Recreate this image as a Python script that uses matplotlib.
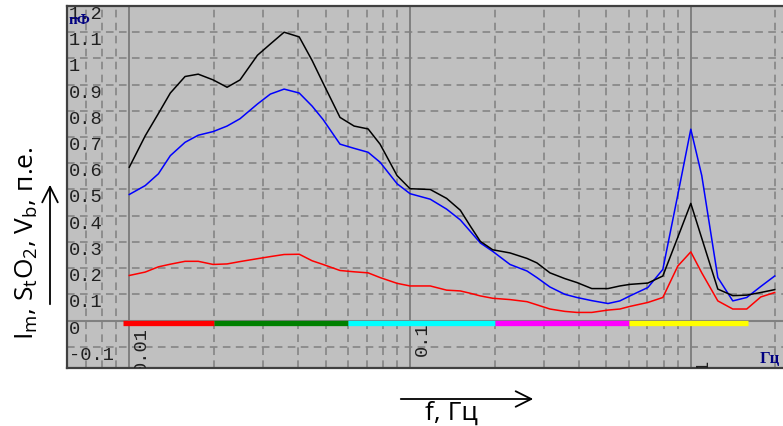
import matplotlib
matplotlib.use("Agg")
import matplotlib.pyplot as plt
from matplotlib.transforms import offset_copy, blended_transform_factory

plt.rcParams['font.family'] = ['Open Sans', 'DejaVu Sans']
plt.rcParams['mathtext.fontset'] = 'custom'
plt.rcParams['mathtext.rm'] = 'Open Sans'

# frequency grid, Hz
freq = [0.0100, 0.0114, 0.0127, 0.0140, 0.0158, 0.0176, 0.0199, 0.0223, 0.0248,
        0.0286, 0.0318, 0.0356, 0.0403, 0.0448, 0.0490, 0.0563, 0.0632, 0.0709,
        0.0782, 0.0899, 0.100, 0.118, 0.135, 0.151, 0.164, 0.178, 0.197, 0.227,
        0.261, 0.283, 0.315, 0.356, 0.393, 0.444, 0.507, 0.559, 0.607, 0.703,
        0.795, 0.899, 1.00, 1.094, 1.248, 1.411, 1.582, 1.775, 1.990]

black = [0.585, 0.705, 0.79, 0.868, 0.931, 0.94, 0.918, 0.89, 0.918, 1.012,
         1.055, 1.10, 1.082, 0.992, 0.906, 0.775, 0.742, 0.731, 0.673, 0.553,
         0.503, 0.50, 0.466, 0.421, 0.36, 0.302, 0.27, 0.258, 0.237, 0.22,
         0.182, 0.16, 0.145, 0.122, 0.122, 0.132, 0.138, 0.143, 0.17, 0.318,
         0.447, 0.314, 0.12, 0.095, 0.097, 0.107, 0.118]

blue = [0.481, 0.515, 0.56, 0.629, 0.68, 0.707, 0.721, 0.742, 0.77, 0.826,
        0.864, 0.883, 0.868, 0.818, 0.767, 0.673, 0.657, 0.642, 0.604, 0.522,
        0.484, 0.463, 0.425, 0.384, 0.34, 0.296, 0.264, 0.214, 0.189, 0.164,
        0.128, 0.10, 0.088, 0.076, 0.065, 0.075, 0.094, 0.126, 0.195, 0.48,
        0.73, 0.553, 0.164, 0.075, 0.088, 0.13, 0.17]

red = [0.172, 0.185, 0.205, 0.215, 0.226, 0.226, 0.214, 0.216, 0.225, 0.236,
       0.244, 0.252, 0.253, 0.228, 0.214, 0.191, 0.186, 0.182, 0.164, 0.142,
       0.132, 0.132, 0.116, 0.113, 0.104, 0.094, 0.085, 0.08, 0.072, 0.06,
       0.044, 0.035, 0.031, 0.031, 0.04, 0.044, 0.054, 0.069, 0.088, 0.208,
       0.262, 0.182, 0.075, 0.044, 0.044, 0.09, 0.107]

# frequency bands along the zero line
band_edges = [0.0095, 0.02, 0.06, 0.2, 0.6, 1.6]
band_colors = ['#ff0000', '#008000', '#00ffff', '#ff00ff', '#ffff00']

yticks = [-0.1, 0, 0.1, 0.2, 0.3, 0.4, 0.5, 0.6, 0.7, 0.8, 0.9, 1.0, 1.1, 1.2]
ytick_labels = ['-0.1', '0', '0.1', '0.2', '0.3', '0.4', '0.5', '0.6', '0.7',
                '0.8', '0.9', '1', '1.1', '1.2']
xmajor = [0.01, 0.1, 1]
xmajor_labels = ['0.01', '0.1', '1']
xminor = [0.006, 0.007, 0.008, 0.009, 0.02, 0.03, 0.04, 0.05, 0.06, 0.07, 0.08,
          0.09, 0.2, 0.3, 0.4, 0.5, 0.6, 0.7, 0.8, 0.9, 2]

W, H = 783, 426
fig = plt.figure(figsize=(W / 100, H / 100), dpi=100)
ax = fig.add_axes([67 / W, 1 - 368 / H, 1 - 67 / W, 362 / H])
ax.set_facecolor('#c0c0c0')
ax.set_xscale('log')
ax.set_xlim(0.006, 2.13)
ax.set_ylim(-0.181, 1.185)

ax.set_xticks(xmajor)
ax.set_xticks(xminor, minor=True)
ax.set_yticks(yticks)
ax.set_axisbelow(True)
ax.grid(which='major', axis='x', color='#808080', lw=1.4, ls='-')
ax.grid(which='minor', axis='x', color='#808080', lw=1.1, ls=(0, (5, 3.5)))
ax.grid(which='major', axis='y', color='#808080', lw=1.1, ls=(0, (5, 3.5)))
ax.axhline(0, color='#808080', lw=1.5, zorder=1)
ax.tick_params(which='both', length=0, labelbottom=False, labelleft=False)

for s in ['left', 'top', 'bottom']:
    ax.spines[s].set_color('#404040')
    ax.spines[s].set_linewidth(1.6)
ax.spines['right'].set_visible(False)

# y labels inside the plot, just under their grid line
ytr = offset_copy(blended_transform_factory(ax.transAxes, ax.transData),
                  fig=fig, x=2, y=0, units='dots')
for v, s in zip(yticks, ytick_labels):
    ax.text(0, v, s, transform=ytr, ha='left', va='top', fontfamily='Liberation Mono',
            fontsize=13.5, color='#202020', clip_on=True)

# rotated x labels inside the plot, partly clipped like the original
xlab_tops = [-0.023, -0.008, -0.151]
xtr = offset_copy(ax.transData, fig=fig, x=4, y=0, units='dots')
for f, s, t in zip(xmajor, xmajor_labels, xlab_tops):
    ax.text(f, t, s, transform=xtr, rotation=90, ha='left', va='top',
            fontfamily='Liberation Mono', fontsize=13.5, color='#202020', clip_on=True)

for i in range(len(band_colors)):
    ax.hlines(-0.008, band_edges[i], band_edges[i + 1], color=band_colors[i],
              lw=3.8, zorder=3)

ax.plot(freq, red, color='#ff0000', lw=1.1, zorder=4)
ax.plot(freq, blue, color='#0000ff', lw=1.1, zorder=4)
ax.plot(freq, black, color='#000000', lw=1.1, zorder=4)

ax.text(0.002, 0.978, 'пФ', transform=ax.transAxes, ha='left', va='top',
        fontfamily='Liberation Serif', fontweight='bold', fontsize=11, color='#000080')
ax.text(0.995, 0.002, 'Гц', transform=ax.transAxes, ha='right', va='bottom',
        fontfamily='Liberation Serif', fontweight='bold', fontsize=12, color='#000080')

fig.text(27 / W, 1 - 243 / H, r'I$_\mathrm{m}$, S$_\mathrm{t}$O$_2$, V$_\mathrm{b}$, п.е.',
         rotation=90, ha='center', va='center', fontsize=19)
fig.text(451 / W, 6 / H, 'f, Гц', ha='center', va='baseline', fontsize=19)
ax.annotate('', xy=(50, H - 182), xytext=(50, H - 307), xycoords='figure pixels',
            textcoords='figure pixels', annotation_clip=False,
            arrowprops=dict(arrowstyle='->', lw=1.3, mutation_scale=28, color='black'))
ax.annotate('', xy=(536, H - 399), xytext=(398, H - 399), xycoords='figure pixels',
            textcoords='figure pixels', annotation_clip=False,
            arrowprops=dict(arrowstyle='->', lw=1.3, mutation_scale=28, color='black'))

fig.savefig('out.png', dpi=100)
